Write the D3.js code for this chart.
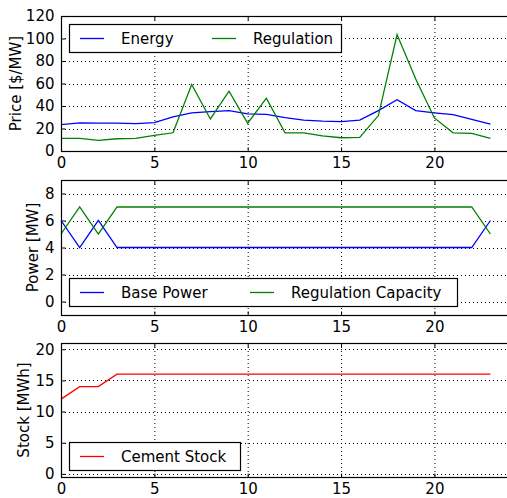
<!DOCTYPE html>
<html>
<head>
<meta charset="utf-8">
<script src="https://cdn.jsdelivr.net/npm/d3@7"></script>
<style>
  body { margin: 0; background: #fff; }
  svg text { font-family: "DejaVu Sans", sans-serif; font-size: 15px; fill: #000; }
</style>
</head>
<body>
<svg id="chart" width="507" height="498"></svg>
<script>
// hours 0..23
var hours = d3.range(0, 24);

var energyPrice = [23.5, 25, 24.7, 24.7, 24.4, 25.3, 30.3, 33.8, 35, 35.9, 33, 32.6,
                   29.7, 27.4, 26.5, 26.2, 27.4, 35.9, 45.6, 35.9, 33.8, 32.4, 28.2, 23.8];
var regulationPrice = [11.2, 11.2, 9.4, 10.9, 11.2, 13.8, 16.2, 59.1, 28.5, 53.2, 24.7, 47,
                       16.2, 16.2, 13.5, 11.8, 12.1, 31.5, 103.5, 64, 29.4, 16.2, 15.6, 11.2];

var basePower = [6, 4, 6, 4, 4, 4, 4, 4, 4, 4, 4, 4, 4, 4, 4, 4, 4, 4, 4, 4, 4, 4, 4, 6];
var regCapacity = [5, 7, 5, 7, 7, 7, 7, 7, 7, 7, 7, 7, 7, 7, 7, 7, 7, 7, 7, 7, 7, 7, 7, 5];

var cementStock = [12, 14, 14, 16, 16, 16, 16, 16, 16, 16, 16, 16, 16, 16, 16, 16, 16, 16, 16, 16, 16, 16, 16, 16];

var xTicks = [0, 5, 10, 15, 20];

var svg = d3.select('#chart');

var x = d3.scaleLinear().domain([0, 25]).range([61, 61 + 25 * 18.67]);
var right = x(25);

function drawPanel(opts) {
	var y = d3.scaleLinear().domain(opts.domain).range([opts.bottom, opts.top]);
	var g = svg.append('g');

	// grid
	g.selectAll('line.gx').data(xTicks.slice(1)).enter().append('line')
		.attr('x1', function(d){ return x(d) + 0.5; })
		.attr('x2', function(d){ return x(d) + 0.5; })
		.attr('y1', opts.top).attr('y2', opts.bottom)
		.attr('stroke', '#000').attr('stroke-width', 1).attr('stroke-dasharray', '1,3');
	g.selectAll('line.gy').data(opts.yTicks).enter().append('line')
		.attr('x1', x(0)).attr('x2', right)
		.attr('y1', function(d){ return Math.round(y(d)) + 0.5; })
		.attr('y2', function(d){ return Math.round(y(d)) + 0.5; })
		.attr('stroke', '#000').attr('stroke-width', 1).attr('stroke-dasharray', '1,3');

	// series
	var line = d3.line()
		.x(function(d, i){ return x(hours[i]); })
		.y(function(d){ return y(d); });
	opts.series.forEach(function(s){
		g.append('path').datum(s.values)
			.attr('d', line)
			.attr('fill', 'none')
			.attr('stroke', s.color)
			.attr('stroke-width', 1.3);
	});

	// y axis, ticks inward
	var yAxis = d3.axisLeft(y).tickValues(opts.yTicks).tickSize(-4).tickPadding(7)
		.tickFormat(d3.format('d'));
	var ya = g.append('g').attr('transform', 'translate(' + (x(0) + 0.5) + ',0)').call(yAxis);
	ya.select('.domain').remove();
	ya.selectAll('text').style('font-size', '15px');

	// x axis, ticks inward
	var xAxis = d3.axisBottom(x).tickValues(xTicks).tickSize(-4).tickPadding(6)
		.tickFormat(d3.format('d'));
	var xa = g.append('g').attr('transform', 'translate(0,' + (opts.bottom + 0.5) + ')').call(xAxis);
	xa.select('.domain').remove();
	xa.selectAll('text').style('font-size', '15px');
	var xt = d3.axisTop(x).tickValues(xTicks).tickSize(-4).tickFormat('');
	var xta = g.append('g').attr('transform', 'translate(0,' + (opts.top + 0.5) + ')').call(xt);
	xta.select('.domain').remove();

	// frame
	g.append('rect')
		.attr('x', x(0) + 0.5).attr('y', opts.top + 0.5)
		.attr('width', right - x(0)).attr('height', opts.bottom - opts.top)
		.attr('fill', 'none').attr('stroke', '#000').attr('stroke-width', 1.2);

	// y label
	g.append('text')
		.attr('transform', 'translate(' + opts.labelX + ',' + ((opts.top + opts.bottom) / 2) + ') rotate(-90)')
		.attr('text-anchor', 'middle')
		.attr('dominant-baseline', 'central')
		.text(opts.label);

	// legend
	var lg = g.append('g').attr('transform', 'translate(' + opts.legend.x + ',' + opts.legend.y + ')');
	lg.append('rect')
		.attr('x', 0.5).attr('y', 0.5)
		.attr('width', opts.legend.w).attr('height', 28)
		.attr('fill', '#fff').attr('stroke', '#000').attr('stroke-width', 1.2);
	opts.series.forEach(function(s, i){
		var ox = opts.legend.offsets[i];
		lg.append('line')
			.attr('x1', ox).attr('x2', ox + 24)
			.attr('y1', 14.5).attr('y2', 14.5)
			.attr('stroke', s.color).attr('stroke-width', 1.3);
		lg.append('text')
			.attr('x', ox + 41).attr('y', 14.5)
			.attr('dominant-baseline', 'central')
			.text(s.name);
	});
}

drawPanel({
	top: 16, bottom: 151, domain: [0, 120], yTicks: [0, 20, 40, 60, 80, 100, 120],
	label: 'Price [$/MW]', labelX: 16,
	series: [
		{ name: 'Energy', values: energyPrice, color: '#0000ff' },
		{ name: 'Regulation', values: regulationPrice, color: '#008000' }
	],
	legend: { x: 69, y: 24, w: 272, offsets: [11, 143] }
});

drawPanel({
	top: 180, bottom: 315, domain: [-1, 9], yTicks: [0, 2, 4, 6, 8],
	label: 'Power [MW]', labelX: 33,
	series: [
		{ name: 'Base Power', values: basePower, color: '#0000ff' },
		{ name: 'Regulation Capacity', values: regCapacity, color: '#008000' }
	],
	legend: { x: 69, y: 278, w: 388, offsets: [11, 181] }
});

drawPanel({
	top: 343, bottom: 477, domain: [-0.5, 21], yTicks: [0, 5, 10, 15, 20],
	label: 'Stock [MWh]', labelX: 24,
	series: [
		{ name: 'Cement Stock', values: cementStock, color: '#ff0000' }
	],
	legend: { x: 69, y: 442, w: 171, offsets: [11] }
});
</script>
</body>
</html>
